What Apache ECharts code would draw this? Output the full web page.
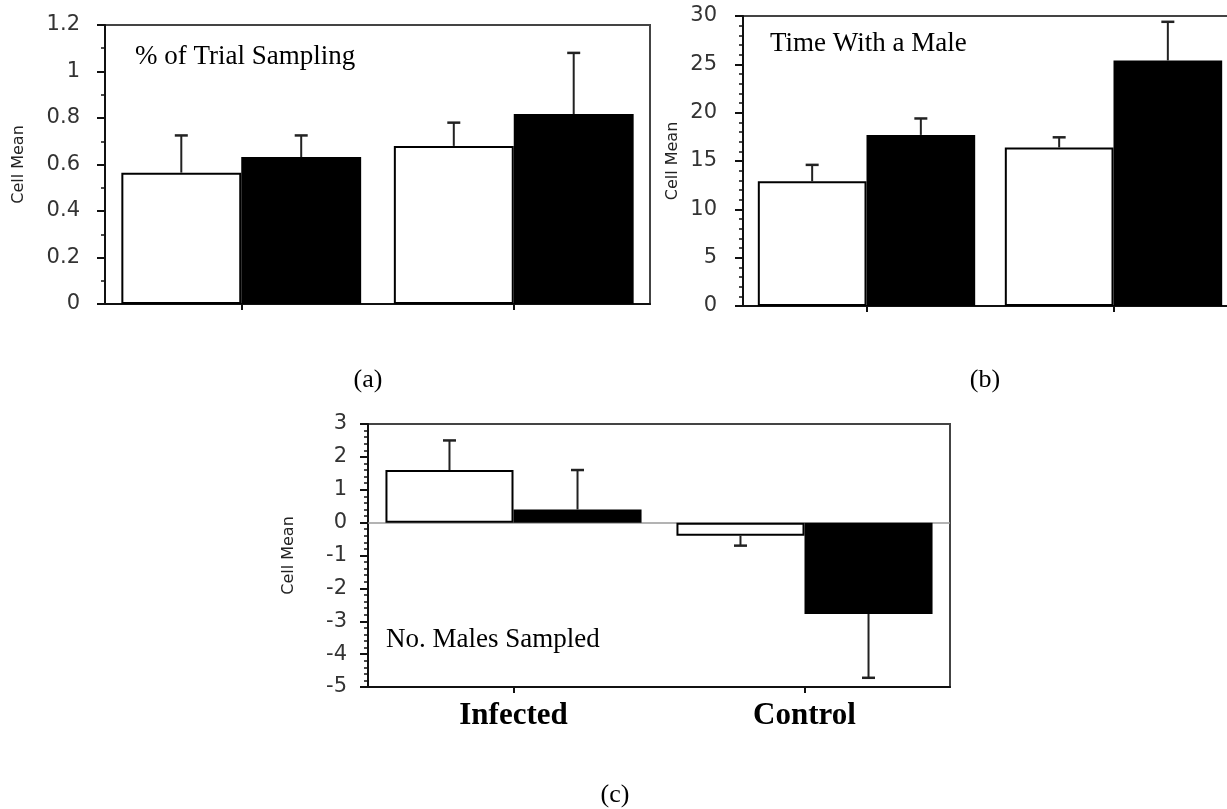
<!DOCTYPE html>
<html>
<head>
<meta charset="utf-8">
<script src="https://cdn.jsdelivr.net/npm/echarts@6/dist/echarts.min.js"></script>
<style>
  html, body { margin: 0; padding: 0; background: #fff; overflow: hidden; }
  /* the right-hand panel runs slightly past the page edge */
  #chart { width: 1240px; height: 809px; }
</style>
</head>
<body>
<div id="chart"></div>
<script>
// Treatment groups along the x axis
const groups = ['Infected', 'Control'];

// (a) % of Trial Sampling — white and black bars, one-sided SE
const trialWhite = [0.565, 0.68];
const trialWhiteErr = [0.16, 0.10];
const trialBlack = [0.632, 0.817];
const trialBlackErr = [0.093, 0.263];

// (b) Time With a Male
const timeWhite = [12.9, 16.4];
const timeWhiteErr = [1.7, 1.05];
const timeBlack = [17.7, 25.4];
const timeBlackErr = [1.7, 4.0];

// (c) No. Males Sampled
const malesWhite = [1.6, -0.4];
const malesWhiteErr = [0.9, 0.3];
const malesBlack = [0.4, -2.78];
const malesBlackErr = [1.2, 1.94];

// y-axis tick settings per panel
const trialAxis = { min: 0, max: 1.2, interval: 0.2, minorSplit: 2 };
const timeAxis = { min: 0, max: 30, interval: 5, minorSplit: 5 };
const malesAxis = { min: -5, max: 3, interval: 1, minorSplit: 5 };

const GAP = 0.12;
const SANS = 'DejaVu Sans';
const SERIF = 'Liberation Serif';

// One-sided error bar: drawn away from zero, from the bar end to bar end ± err
function errorRender(params, api) {
  const cat = api.value(0);
  const val = api.value(1);
  const err = api.value(2);
  const side = api.value(3);
  const end = val >= 0 ? val + err : val - err;
  const band = api.size([1, 0])[0];
  const bw = band * (1 - GAP) / 2;
  const base = api.coord([cat, val]);
  const tip = api.coord([cat, end]);
  const x = base[0] + side * bw / 2;
  const cap = 6.5;
  return {
    type: 'group',
    children: [
      { type: 'line', shape: { x1: x, y1: base[1], x2: x, y2: tip[1] },
        style: { stroke: '#222', lineWidth: 2 } },
      { type: 'line', shape: { x1: x - cap, y1: tip[1], x2: x + cap, y2: tip[1] },
        style: { stroke: '#222', lineWidth: 2.5 } }
    ]
  };
}

function errData(values, errs, side) {
  return values.map((v, i) => [i, v, errs[i], side]);
}

function yAxisFor(idx, ax, gap, margin) {
  return {
    type: 'value', gridIndex: idx,
    min: ax.min, max: ax.max, interval: ax.interval,
    name: 'Cell Mean', nameLocation: 'middle', nameRotate: 90,
    nameGap: gap,
    nameTextStyle: { fontFamily: SANS, fontSize: 16, color: '#222' },
    axisLine: { show: true, lineStyle: { color: '#111', width: 2 } },
    axisTick: { show: true, inside: false, length: 8, lineStyle: { color: '#111', width: 2 } },
    minorTick: { show: true, splitNumber: ax.minorSplit, length: 4, lineStyle: { color: '#111', width: 1.5 } },
    splitLine: { show: false },
    axisLabel: { fontFamily: SANS, fontSize: 21, color: '#333', margin: margin }
  };
}

function xAxisFor(idx, showLabels) {
  return {
    type: 'category', gridIndex: idx, data: groups,
    axisLine: { show: true, onZero: false, lineStyle: { color: '#111', width: 2 } },
    axisTick: { show: true, alignWithLabel: true, length: 6, lineStyle: { color: '#111', width: 2 } },
    axisLabel: {
      show: showLabels, fontFamily: SERIF, fontWeight: 'bold', fontSize: 31,
      color: '#000', margin: 13
    }
  };
}

function barPair(idx, white, black, whiteErr, blackErr, withZeroLine) {
  const whiteSeries = {
    type: 'bar', xAxisIndex: idx, yAxisIndex: idx, data: white,
    barGap: '0%', barCategoryGap: (GAP * 100) + '%',
    itemStyle: { color: '#fff', borderColor: '#000', borderWidth: 2 },
    silent: true, z: 2
  };
  if (withZeroLine) {
    whiteSeries.markLine = {
      silent: true, symbol: 'none', label: { show: false },
      lineStyle: { color: '#9a9a9a', width: 1.5, type: 'solid' },
      data: [{ yAxis: 0 }], z: 1
    };
  }
  return [
    whiteSeries,
    {
      type: 'bar', xAxisIndex: idx, yAxisIndex: idx, data: black,
      barGap: '0%', barCategoryGap: (GAP * 100) + '%',
      itemStyle: { color: '#000', borderColor: '#000', borderWidth: 2 },
      silent: true, z: 2
    },
    {
      type: 'custom', xAxisIndex: idx, yAxisIndex: idx, renderItem: errorRender,
      data: errData(white, whiteErr, -1), silent: true, z: 3
    },
    {
      type: 'custom', xAxisIndex: idx, yAxisIndex: idx, renderItem: errorRender,
      data: errData(black, blackErr, 1), silent: true, z: 3
    }
  ];
}

function label(text, x, y, font, align) {
  return {
    type: 'text', x: x, y: y, silent: true,
    style: { text: text, font: font, fill: '#000', textAlign: align || 'left', textVerticalAlign: 'middle' }
  };
}

const chart = echarts.init(document.getElementById('chart'), null, { renderer: 'canvas' });

chart.setOption({
  animation: false,
  backgroundColor: '#fff',
  grid: [
    { left: 105, top: 25, width: 545, height: 279, show: true, borderColor: '#444', borderWidth: 2, backgroundColor: 'transparent' },
    { left: 743, top: 16, width: 494, height: 290, show: true, borderColor: '#444', borderWidth: 2, backgroundColor: 'transparent' },
    { left: 368, top: 424, width: 582, height: 263, show: true, borderColor: '#444', borderWidth: 2, backgroundColor: 'transparent' }
  ],
  xAxis: [xAxisFor(0, false), xAxisFor(1, false), xAxisFor(2, true)],
  yAxis: [yAxisFor(0, trialAxis, 78, 25), yAxisFor(1, timeAxis, 62, 26), yAxisFor(2, malesAxis, 71, 21)],
  series: [
    ...barPair(0, trialWhite, trialBlack, trialWhiteErr, trialBlackErr, false),
    ...barPair(1, timeWhite, timeBlack, timeWhiteErr, timeBlackErr, false),
    ...barPair(2, malesWhite, malesBlack, malesWhiteErr, malesBlackErr, true)
  ],
  graphic: [
    label('% of Trial Sampling', 135, 57, '27px "Liberation Serif"'),
    label('Time With a Male', 770, 44, '27px "Liberation Serif"'),
    label('No. Males Sampled', 386, 640, '27px "Liberation Serif"'),
    label('(a)', 368, 380, '26px "Liberation Serif"', 'center'),
    label('(b)', 985, 380, '26px "Liberation Serif"', 'center'),
    label('(c)', 615, 795, '26px "Liberation Serif"', 'center')
  ]
});
</script>
</body>
</html>
